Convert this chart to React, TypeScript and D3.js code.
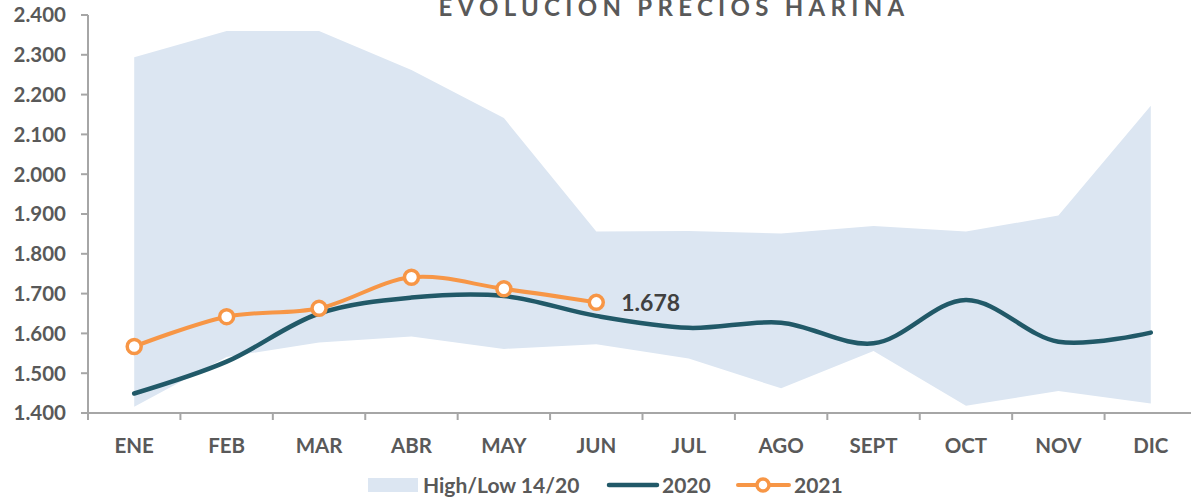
import React, { useEffect } from 'react';
import * as d3 from 'd3';

const months = ['ENE', 'FEB', 'MAR', 'ABR', 'MAY', 'JUN', 'JUL', 'AGO', 'SEPT', 'OCT', 'NOV', 'DIC'];
const highValues = [2.294, 2.360, 2.360, 2.262, 2.141, 1.856, 1.857, 1.851, 1.870, 1.856, 1.896, 2.172];
const lowValues = [1.416, 1.541, 1.577, 1.592, 1.561, 1.573, 1.537, 1.462, 1.556, 1.418, 1.455, 1.424];
const values2020 = [1.449, 1.529, 1.650, 1.690, 1.694, 1.644, 1.614, 1.627, 1.575, 1.684, 1.579, 1.602];
const values2021 = [1.567, 1.642, 1.663, 1.741, 1.712, 1.678];
const yTicks = [1.4, 1.5, 1.6, 1.7, 1.8, 1.9, 2.0, 2.1, 2.2, 2.3, 2.4];

const W = 1191;
const H = 499;
const margin = { top: 15, right: -6, bottom: 86, left: 88 };
const FONT = 'Lato, "Open Sans", sans-serif';
const GREY = '#595959';
const AXIS = '#A6A6A6';
const BAND = '#DCE6F2';
const DARK = '#215968';
const ORANGE = '#F79646';

const fmt = (v: number) => v.toFixed(3);

const App: React.FC = () => {
  useEffect(() => {
    document.body.style.margin = '0';
  }, []);

  const x = d3.scaleBand<string>()
    .domain(months)
    .range([margin.left, W - margin.right]);

  const y = d3.scaleLinear()
    .domain([1.4, 2.4])
    .range([H - margin.bottom, margin.top]);

  const cx = (m: string) => (x(m) as number) + x.bandwidth() / 2;

  const area = d3.area<number>()
    .x((_, i) => cx(months[i]))
    .y0((_, i) => y(lowValues[i]))
    .y1(d => y(d));

  const line = d3.line<number>()
    .x((_, i) => cx(months[i]))
    .y(d => y(d))
    .curve(d3.curveCatmullRom.alpha(0.5));

  const y0 = y(1.4);
  const lastIdx = values2021.length - 1;

  return (
    <svg width={W} height={H} style={{ display: 'block', fontFamily: FONT }}>
      <rect width={W} height={H} fill="#fff" />
      <text x={674} y={16} textAnchor="middle" fontSize={24} fontWeight={700}
        fill={GREY} letterSpacing={5.3}>EVOLUCIÓN PRECIOS HARINA</text>

      <path d={area(highValues) || ''} fill={BAND} />

      {/* y axis */}
      <line x1={margin.left} x2={margin.left} y1={y(2.4)} y2={y0} stroke={AXIS} strokeWidth={2} />
      {yTicks.map(t => (
        <g key={t}>
          <line x1={margin.left - 7} x2={margin.left} y1={y(t)} y2={y(t)} stroke={AXIS} strokeWidth={2} />
          <text x={66} y={y(t)} dy="0.36em" textAnchor="end" fontSize={20.5} fontWeight={700} fill={GREY}>
            {fmt(t)}
          </text>
        </g>
      ))}

      {/* x axis */}
      <line x1={margin.left - 1} x2={W} y1={y0} y2={y0} stroke={AXIS} strokeWidth={2} />
      {months.map(m => (
        <g key={m}>
          <line x1={x(m) as number} x2={x(m) as number} y1={y0} y2={y0 + 7} stroke={AXIS} strokeWidth={2} />
          <text x={cx(m)} y={453} textAnchor="middle" fontSize={20.5} fontWeight={700} fill={GREY}>{m}</text>
        </g>
      ))}

      <path d={line(values2020) || ''} fill="none" stroke={DARK} strokeWidth={4.5} strokeLinecap="round" />
      <path d={line(values2021) || ''} fill="none" stroke={ORANGE} strokeWidth={4} strokeLinecap="round" />
      {values2021.map((v, i) => (
        <circle key={i} cx={cx(months[i])} cy={y(v)} r={7} fill="#fff" stroke={ORANGE} strokeWidth={3.5} />
      ))}
      <text x={cx(months[lastIdx]) + 25} y={y(values2021[lastIdx])} dy="0.36em" fontSize={23}
        fontWeight={700} fill="#404040">{fmt(values2021[lastIdx])}</text>

      {/* legend */}
      <rect x={368} y={478} width={50} height={14} fill={BAND} />
      <text x={423} y={485} dy="0.36em" fontSize={21} fontWeight={700} fill={GREY}>High/Low 14/20</text>
      <line x1={609} x2={657} y1={485} y2={485} stroke={DARK} strokeWidth={4.5} strokeLinecap="round" />
      <text x={662} y={485} dy="0.36em" fontSize={21} fontWeight={700} fill={GREY}>2020</text>
      <line x1={738} x2={789} y1={485} y2={485} stroke={ORANGE} strokeWidth={4} strokeLinecap="round" />
      <circle cx={763} cy={485} r={6} fill="#fff" stroke={ORANGE} strokeWidth={3.5} />
      <text x={794} y={485} dy="0.36em" fontSize={21} fontWeight={700} fill={GREY}>2021</text>
    </svg>
  );
};

export default App;
